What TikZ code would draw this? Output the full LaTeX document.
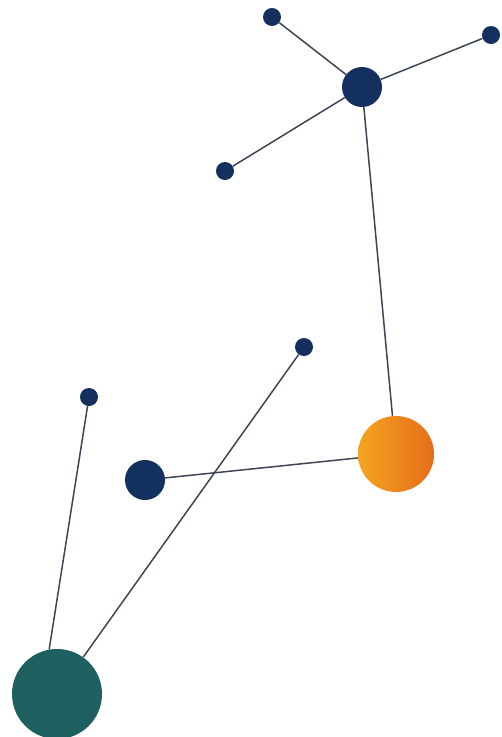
\documentclass[tikz,border=0pt]{standalone}
\begin{document}
\begin{tikzpicture}[x=1pt,y=-1pt,
  link/.style={draw=linkc, line width=1.5pt},
  atom/.style={circle, inner sep=0pt, draw=none},
  navy/.style={atom, fill=navyc},
  small/.style={navy, minimum size=18pt},
]
\definecolor{navyc}{HTML}{13305E}
\definecolor{tealc}{HTML}{1E6060}
\definecolor{linkc}{HTML}{3E4656}
\definecolor{orangeA}{HTML}{F3A51F}
\definecolor{orangeB}{HTML}{E76C1B}
\useasboundingbox[fill=white] (0,0) rectangle (502,737);
\node[small] (t1) at (272,17) {};
\node[small] (t2) at (491,35) {};
\node[navy, minimum size=40pt] (hub) at (362,87) {};
\node[small] (t3) at (225,171) {};
\node[atom, minimum size=76pt, left color=orangeA, right color=orangeB] (or) at (396,454) {};
\node[navy, minimum size=40pt] (m) at (145,480) {};
\node[small] (s1) at (304,347) {};
\node[small] (s2) at (89,397) {};
\node[atom, fill=tealc, minimum size=90pt] (tl) at (57,694) {};
\draw[link] (hub) -- (t1);
\draw[link] (hub) -- (t2);
\draw[link] (hub) -- (t3);
\draw[link] (hub) -- (or);
\draw[link] (or) -- (m);
\draw[link] (s1) -- (tl);
\draw[link] (s2) -- (tl.100);
\end{tikzpicture}
\end{document}
